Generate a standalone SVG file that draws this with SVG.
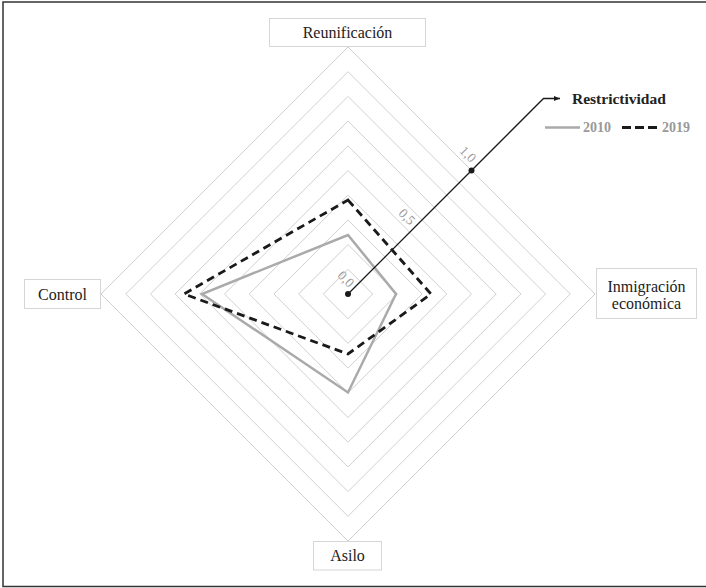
<svg xmlns="http://www.w3.org/2000/svg" width="706" height="588" viewBox="0 0 706 588">
<style>
.grid{fill:none;stroke:#d0d0d0;stroke-width:1}
.box{fill:#fff;stroke:#d6d6d6;stroke-width:1}
.lbl{font-family:'Liberation Serif',serif;font-size:16px;fill:#222;text-anchor:middle}
.tick{font-family:'Liberation Serif',serif;font-size:13.5px;fill:#9a9a9a;text-anchor:middle}
.leg{font-family:'Liberation Serif',serif;font-size:14px;font-weight:bold;fill:#999}
.s2010{fill:none;stroke:#aaa;stroke-width:2.5;stroke-linejoin:miter}
.s2019{fill:none;stroke:#1a1a1a;stroke-width:2.8;stroke-dasharray:8,5;stroke-linejoin:miter}
</style>
<defs>
<marker id="arr" viewBox="0 0 10 10" refX="10" refY="5" markerWidth="5" markerHeight="5" markerUnits="strokeWidth" orient="auto">
<path d="M0,1 L10,5 L0,9 Z" fill="#1a1a1a"/>
</marker>
</defs>
<rect x="3" y="2" width="706" height="584.5" fill="#fff" stroke="#333" stroke-width="1.5"/>
<g id="grid">
<polygon class="grid" points="348,269.3 372.7,294 348,318.7 323.3,294"/>
<polygon class="grid" points="348,244.6 397.4,294 348,343.4 298.6,294"/>
<polygon class="grid" points="348,219.9 422.1,294 348,368.1 273.9,294"/>
<polygon class="grid" points="348,195.2 446.8,294 348,392.8 249.2,294"/>
<polygon class="grid" points="348,170.5 471.5,294 348,417.5 224.5,294"/>
<polygon class="grid" points="348,145.8 496.2,294 348,442.2 199.8,294"/>
<polygon class="grid" points="348,121.1 520.9,294 348,466.9 175.1,294"/>
<polygon class="grid" points="348,96.4 545.6,294 348,491.6 150.4,294"/>
<polygon class="grid" points="348,71.7 570.3,294 348,516.3 125.7,294"/>
<polygon class="grid" points="348,47 595,294 348,541 101,294"/>
</g>
<g id="series">
<polygon class="s2010" points="348,235 396,294 348,392.5 202,294"/>
<polygon class="s2019" points="348,200 431,294 348,354 184,294"/>
</g>
<g id="connectors">
<path d="M348,294 L543.5,98.5 L560,98.5" fill="none" stroke="#1a1a1a" stroke-width="1.3" marker-end="url(#arr)"/>
<circle cx="348" cy="294" r="3" fill="#1a1a1a"/>
<circle cx="471.5" cy="170.5" r="3" fill="#1a1a1a"/>
</g>
<g id="ticks">
<text class="tick" transform="translate(348,294) rotate(45)" x="-12" y="-4.5">0,0</text>
<text class="tick" transform="translate(409.75,232.25) rotate(45)" x="-13" y="-4.5">0,5</text>
<text class="tick" transform="translate(471.5,170.5) rotate(45)" x="-14" y="-4.5">1,0</text>
</g>
<g id="node-reunificacion">
<rect class="box" x="269.5" y="18.5" width="156" height="28"/>
<text class="lbl" x="347.5" y="37.5">Reunificación</text>
</g>
<g id="node-control">
<rect class="box" x="24.5" y="279.5" width="76" height="29"/>
<text class="lbl" x="62.5" y="299.5">Control</text>
</g>
<g id="node-inmigracion">
<rect class="box" x="596.5" y="268.5" width="100" height="50"/>
<text class="lbl" x="646.5" y="292">Inmigración</text>
<text class="lbl" x="646.5" y="308.5">económica</text>
</g>
<g id="node-asilo">
<rect class="box" x="313.5" y="541.5" width="68" height="28.5"/>
<text class="lbl" x="347.5" y="560.5">Asilo</text>
</g>
<g id="legend">
<text x="572" y="103.5" font-family="'Liberation Serif',serif" font-size="15.5px" font-weight="bold" fill="#222">Restrictividad</text>
<line x1="545" y1="127.5" x2="580" y2="127.5" stroke="#aaa" stroke-width="2.5"/>
<text class="leg" x="583" y="132">2010</text>
<line x1="622" y1="127.5" x2="657" y2="127.5" stroke="#1a1a1a" stroke-width="2.8" stroke-dasharray="9,4"/>
<text class="leg" x="662" y="132">2019</text>
</g>
</svg>
